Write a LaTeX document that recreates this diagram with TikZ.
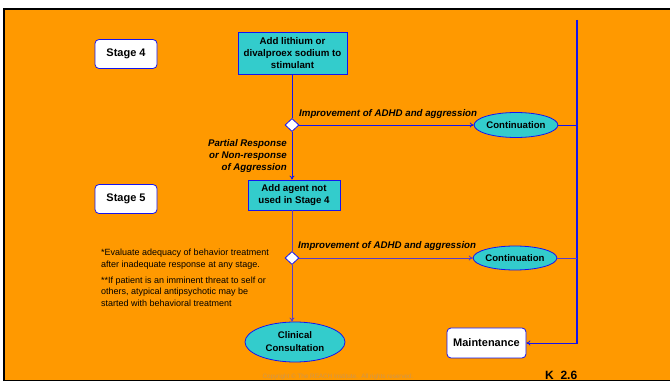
\documentclass[tikz,border=0pt]{standalone}
\usepackage{fontspec}
\setmainfont{Liberation Sans}
\usetikzlibrary{arrows.meta,shapes.geometric}
\definecolor{bg}{RGB}{255,153,0}
\definecolor{cy}{RGB}{51,204,204}
\definecolor{bl}{RGB}{20,20,240}
\definecolor{pu}{RGB}{90,60,200}
\definecolor{cp}{RGB}{205,150,80}
\begin{document}
\begin{tikzpicture}[x=1pt,y=-1pt,
  stagebox/.style={draw=bl,fill=white,rounded corners=4pt,line width=0.8pt,minimum width=62pt,minimum height=29pt,inner sep=0pt,font=\fontsize{11}{13}\selectfont\bfseries},
  actbox/.style={draw=bl,fill=cy,line width=0.8pt,inner sep=0pt,align=center,font=\fontsize{9.7}{11.8}\selectfont\bfseries},
  ell/.style={ellipse,draw=bl,fill=cy,line width=0.8pt,inner sep=0pt,align=center,font=\fontsize{9.6}{13}\selectfont\bfseries},
  dia/.style={diamond,draw=bl,fill=white,line width=0.8pt,inner sep=0pt,minimum width=14pt,minimum height=13pt},
  lbl/.style={font=\fontsize{9.7}{12.3}\selectfont\bfseries\itshape,inner sep=0pt},
  note/.style={font=\fontsize{9}{11.6}\selectfont,inner sep=0pt,align=left,anchor=north west},
  conn/.style={line width=0.8pt},
  arr/.style={line width=0.8pt,-{To[length=4pt,width=5pt]}}]
\useasboundingbox (0,0) rectangle (670,382);
\fill[white] (0,0) rectangle (670,382);
\fill[bg] (4,9) rectangle (672,380);
% nodes
\node[stagebox] (s4) at (126,54) {Stage 4};
\node[stagebox] (s5) at (126,199) {Stage 5};
\node[actbox,minimum width=109pt,minimum height=42pt] (b1) at (292.5,53) {\raisebox{0pt}[\height][\depth]{}Add lithium or\\divalproex sodium to\\stimulant};
\node[dia] (d1) at (292,125) {};
\node[ell,minimum width=80pt,minimum height=25pt] (c1) at (516,125) {Continuation};
\node[actbox,minimum width=92pt,minimum height=30pt] (b2) at (294,195) {Add agent not\\used in Stage 4};
\node[dia] (d2) at (292,258) {};
\node[ell,minimum width=80pt,minimum height=24pt] (c2) at (515,258) {Continuation};
\node[ell,minimum width=100pt,minimum height=40pt] (cc) at (295,342) {Clinical\\Consultation};
\node[stagebox,minimum width=79pt,minimum height=30pt] (mt) at (486.5,343) {Maintenance};
\coordinate (bt) at (577,20);
\coordinate (bm) at (577,343);
% bar
\draw[bl,line width=1.6pt] (bt) -- (577,343.8);
% connectors
\draw[bl,conn] (b1.south -| d1) -- (d1.north);
\draw[bl,arr] (d1.east) -- (c1.west);
\draw[bl,conn] (c1.east) -- (c1.east -| bt);
\draw[bl,arr] (d1.south) -- (d1.south |- b2.north);
\draw[pu,conn] (b2.south -| d2) -- (d2.north);
\draw[pu,arr] (d2.east) -- (c2.west);
\draw[pu,conn] (c2.east) -- (c2.east -| bt);
\draw[pu,arr] (d2.south) -- (d2.south |- cc.north);
\draw[bl,arr] (bm) -- (mt.east);
% labels
\node[lbl,anchor=base west] (l1) at (299,116.5) {Improvement of ADHD and aggression};
\node[lbl,anchor=base west] (l2) at (298,249) {Improvement of ADHD and aggression};
\node[lbl,align=right,anchor=north east] (l3) at (287,139) {Partial Response\\or Non-response\\of Aggression};
\node[note] (n1) at (101,249) {*Evaluate adequacy of behavior treatment\\after inadequate response at any stage.};
\node[note] (n2) at (101,276.5) {**If patient is an imminent threat to self or\\others, atypical antipsychotic may be\\started with behavioral treatment};
\node[font=\fontsize{6.3}{7}\selectfont,text=cp,inner sep=0pt] (cr) at (338,376.5) {Copyright \textcopyright{} The REACH Institute.\ \ All rights reserved.};
\node[font=\fontsize{12}{13}\selectfont\bfseries,inner sep=0pt,anchor=base west] (k) at (545,379) {K\ \ 2.6};
% frame
\draw[black,line width=2pt] (4,381) -- (4,9) -- (672,9);
\draw[black,line width=1pt] (4,380.5) -- (672,380.5);
\end{tikzpicture}
\end{document}
